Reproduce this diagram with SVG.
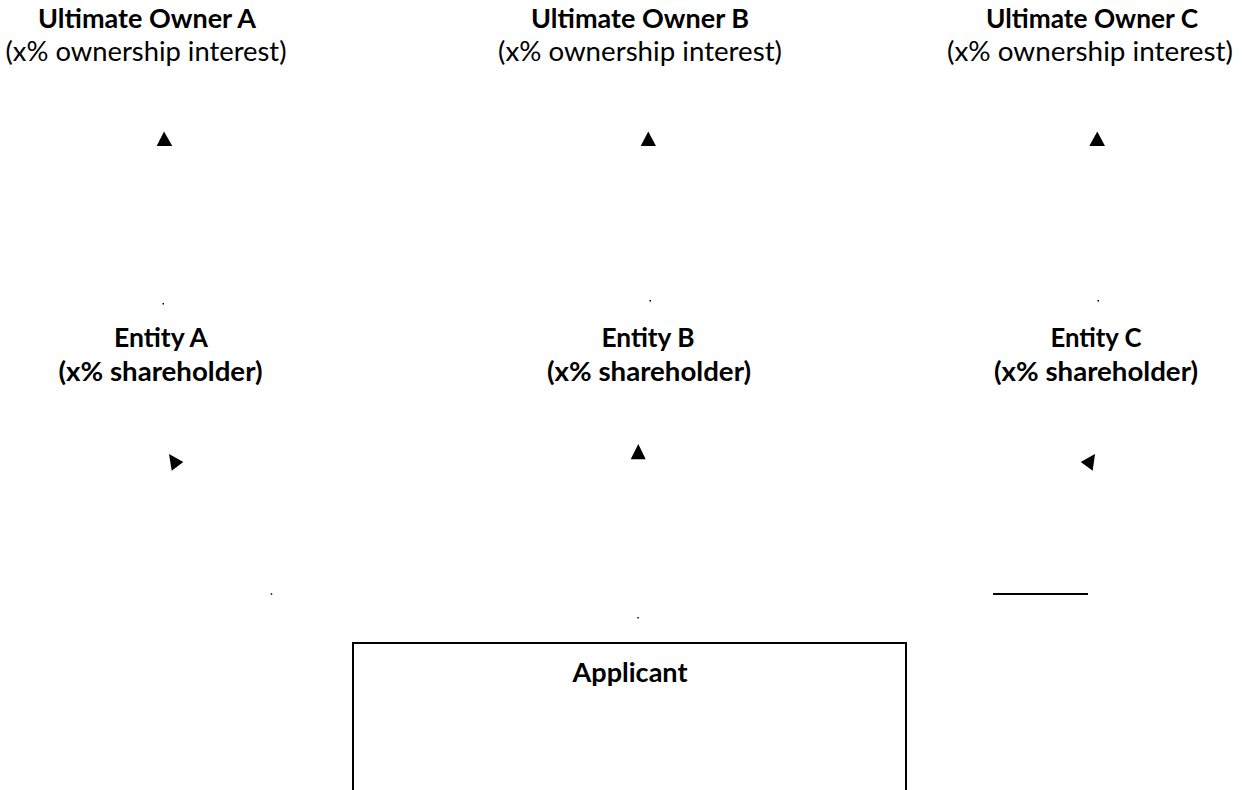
<svg xmlns="http://www.w3.org/2000/svg" width="1244" height="790" viewBox="0 0 1244 790">
<style>
text{font-family:Lato,"Open Sans","Liberation Sans",sans-serif;font-size:27px;fill:#000;text-anchor:middle}
.b{font-weight:bold}
.head{fill:#000;stroke:none}
.dot{fill:#000}
</style>
<rect x="0" y="0" width="1244" height="790" fill="#fff"/>
<g id="owner-a">
<text class="b" x="147" y="28" textLength="218" lengthAdjust="spacingAndGlyphs">Ultimate Owner A</text>
<text x="146" y="61" textLength="281" lengthAdjust="spacingAndGlyphs">(x% ownership interest)</text>
</g>
<g id="owner-b">
<text class="b" x="640" y="28" textLength="218" lengthAdjust="spacingAndGlyphs">Ultimate Owner B</text>
<text x="640" y="61" textLength="284" lengthAdjust="spacingAndGlyphs">(x% ownership interest)</text>
</g>
<g id="owner-c">
<text class="b" x="1092" y="28" textLength="212" lengthAdjust="spacingAndGlyphs">Ultimate Owner C</text>
<text x="1090" y="61" textLength="286" lengthAdjust="spacingAndGlyphs">(x% ownership interest)</text>
</g>
<g id="entity-a">
<text class="b" x="161" y="347" textLength="94" lengthAdjust="spacingAndGlyphs">Entity A</text>
<text class="b" x="160.5" y="381" textLength="204" lengthAdjust="spacingAndGlyphs">(x% shareholder)</text>
</g>
<g id="entity-b">
<text class="b" x="648" y="347" textLength="93" lengthAdjust="spacingAndGlyphs">Entity B</text>
<text class="b" x="649" y="381" textLength="204" lengthAdjust="spacingAndGlyphs">(x% shareholder)</text>
</g>
<g id="entity-c">
<text class="b" x="1096" y="347" textLength="91" lengthAdjust="spacingAndGlyphs">Entity C</text>
<text class="b" x="1096" y="381" textLength="204" lengthAdjust="spacingAndGlyphs">(x% shareholder)</text>
</g>
<g id="applicant">
<rect x="353" y="643" width="553" height="160" fill="none" stroke="#000" stroke-width="2"/>
<text class="b" x="630" y="682" textLength="115" lengthAdjust="spacingAndGlyphs">Applicant</text>
</g>
<g id="connectors">
<polygon class="head" points="164,131.5 172.3,146 156.7,146"/>
<polygon class="head" points="648.3,131.5 656,146 640.7,146"/>
<polygon class="head" points="1097.3,131.5 1105,146 1089.3,146"/>
<polygon class="head" points="169,454 183.3,462 171.7,470.7"/>
<polygon class="head" points="638.3,444 645.7,459.3 630.7,459.3"/>
<polygon class="head" points="1095,454 1080.7,462 1092.7,470.7"/>
<rect class="dot" x="162.5" y="303" width="1.5" height="1.5"/>
<rect class="dot" x="649.5" y="300" width="1.5" height="1.5"/>
<rect class="dot" x="1097.5" y="300" width="1.5" height="1.5"/>
<rect class="dot" x="270.7" y="593.3" width="1.5" height="1.5"/>
<rect class="dot" x="637.3" y="617" width="1.5" height="1.5"/>
<line x1="993" y1="594" x2="1088" y2="594" stroke="#000" stroke-width="2"/>
</g>
</svg>
